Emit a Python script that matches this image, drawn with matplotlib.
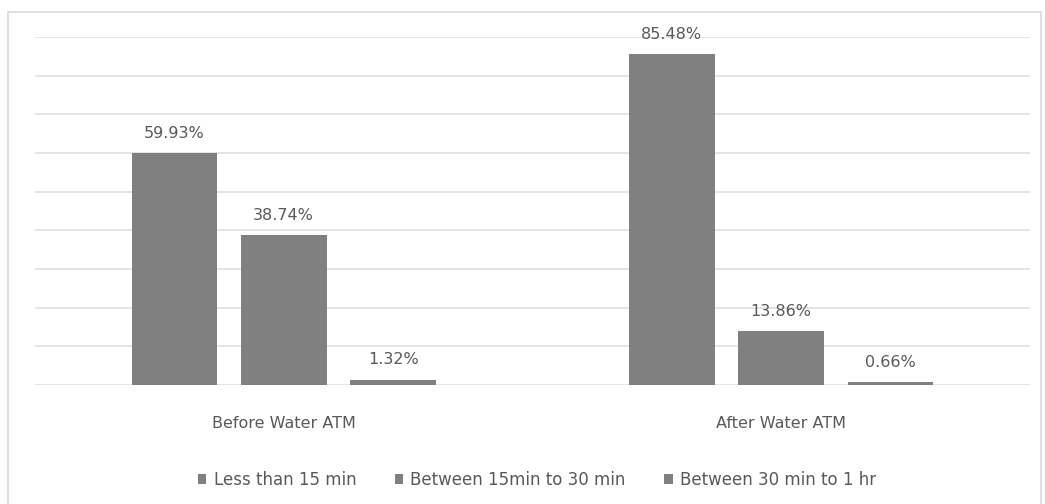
import matplotlib
matplotlib.use("Agg")
import matplotlib.pyplot as plt
from matplotlib.patches import Rectangle
import numpy as np

categories = ["Before Water ATM", "After Water ATM"]
series_names = ["Less than 15 min", "Between 15min to 30 min", "Between 30 min to 1 hr"]
less_than_15 = [59.93, 85.48]
between_15_30 = [38.74, 13.86]
between_30_60 = [1.32, 0.66]
series_values = [less_than_15, between_15_30, between_30_60]

W, H = 1045, 504
fig = plt.figure(figsize=(W / 100, H / 100), dpi=100)
plt.rcParams['font.family'] = ['DejaVu Sans']

# outer chart frame
fig.patches.append(Rectangle((8 / W, -0.05), (1041 - 8) / W, 1.05 - 12 / H,
                             transform=fig.transFigure, fill=False,
                             edgecolor="#d9d9d9", linewidth=1.2))

ax = fig.add_axes([35 / W, (H - 385) / H, (1030 - 35) / W, (385 - 37) / H])
ax.set_xlim(-0.5, 1.5)
ax.set_ylim(0, 90)

bar_color = "#808080"
text_color = "#595959"
fs = 11.5
width = 0.172
step = 0.22
x = np.arange(len(categories))
for i, (name, vals) in enumerate(zip(series_names, series_values)):
    pos = x + (i - 1) * step
    bars = ax.bar(pos, vals, width=width, color=bar_color, label=name, zorder=3)
    for b, v in zip(bars, vals):
        ax.annotate(f"{v:.2f}%", (b.get_x() + b.get_width() / 2, v),
                    xytext=(0, 9), textcoords="offset points",
                    ha="center", va="bottom", fontsize=fs, color=text_color)

ax.set_yticks(np.arange(0, 91, 10))
ax.yaxis.grid(True, color="#e3e3e3", linewidth=1.3, zorder=0)
ax.tick_params(axis="y", left=False, labelleft=False)
ax.set_xticks(x)
ax.set_xticklabels(categories, fontsize=fs, color=text_color)
ax.tick_params(axis="x", length=0, pad=22)
for s in ax.spines.values():
    s.set_visible(False)

handles, labels = ax.get_legend_handles_labels()
fig.legend(handles, labels, loc="center", bbox_to_anchor=(537 / W, (H - 480) / H),
           ncol=3, frameon=False, fontsize=12, labelcolor=text_color,
           handlelength=0.5, handleheight=0.5, handletextpad=0.45, columnspacing=2.3)

fig.savefig("out.png", dpi=100, facecolor="white")
